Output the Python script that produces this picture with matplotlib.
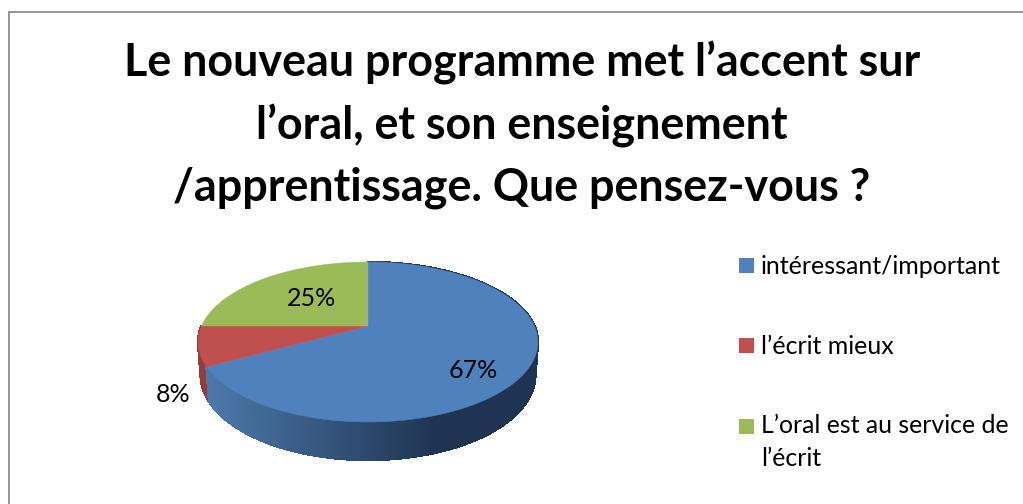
import numpy as np
import matplotlib
matplotlib.use("Agg")
import matplotlib.pyplot as plt
from matplotlib.patches import Rectangle
from matplotlib.collections import PolyCollection

title_lines = ["Le nouveau programme met l’accent sur",
               "l’oral, et son enseignement",
               "/apprentissage. Que pensez-vous ?"]
categories = ["intéressant/important", "l’écrit mieux", "L’oral est au service de\nl’écrit"]
values = [67, 8, 25]
pct_labels = ["67%", "8%", "25%"]
colors = ["#4f81bd", "#c0504d", "#9bbb59"]

plt.rcParams['font.family'] = ['Lato', 'DejaVu Sans']
fig = plt.figure(figsize=(10.23, 5.04), dpi=100)
ax = fig.add_axes([0, 0, 1, 1])
ax.set_xlim(0, 1023)
ax.set_ylim(504, 0)
ax.axis("off")

# frame
ax.plot([9, 9, 1023], [504, 12, 12], color="#8e8e8e", lw=1.3, solid_joinstyle="miter")

# perspective projection of the unit circle onto the page
CX, VY, RX = 368.0, 326.0, 166.5
def project(theta, drop=False):
    u, v = np.sin(theta), -np.cos(theta)
    w = 1 - 0.2 * v
    x = CX + RX * u / w
    y = (VY + 11.6 * v) / w
    if drop:
        x = CX + (x - CX) * 0.985
        y = y + 31 + 7 * v
    return x, y

edges = np.radians(np.concatenate([[0], np.cumsum(values)]) * 360 / sum(values))

def wall(t0, t1, col_fn):
    th = np.linspace(t0, t1, 400)
    xa, ya = project(th)
    xb, yb = project(th, drop=True)
    polys, cols = [], []
    for i in range(len(th) - 1):
        polys.append([(xa[i], ya[i]), (xa[i+1], ya[i+1]), (xb[i+1], yb[i+1]), (xb[i], yb[i])])
        cols.append(col_fn(0.5 * (xa[i] + xa[i+1])))
    ax.add_collection(PolyCollection(polys, facecolors=cols, edgecolors=cols,
                                     linewidths=1.0, antialiaseds=False))

def blue_wall(x):
    t = np.clip((x - 205) / (435 - 205), 0, 1)
    a, b = np.array([0x4c, 0x79, 0xab]) / 255, np.array([0x1f, 0x34, 0x52]) / 255
    return tuple(a + (b - a) * t)

# side walls: red first, blue over it
wall(edges[1], edges[2], lambda x: "#943d3b")
wall(edges[0], edges[1], blue_wall)

# top faces
for i, c in enumerate(colors):
    th = np.linspace(edges[i], edges[i + 1], 200)
    x, y = project(th)
    ax.fill(np.r_[CX, x], np.r_[VY, y], color=c, lw=0.3)

# data labels
label_pos = [(473, 370), (173, 394), (311, 299)]
for s, (x, y) in zip(pct_labels, label_pos):
    ax.text(x, y, s, ha="center", va="center", fontsize=18, color="black")

# title
for s, y in zip(title_lines, [63, 126, 188]):
    ax.text(522, y, s, ha="center", va="center", fontsize=32.3, fontweight="bold", color="black")

# legend
for c, y in zip(colors, [258, 338, 419]):
    ax.add_patch(Rectangle((739, y), 15, 15, facecolor=c, edgecolor="none"))
ax.text(761, 266, categories[0], va="center", ha="left", fontsize=18)
ax.text(761, 346, categories[1], va="center", ha="left", fontsize=18)
ax.text(761, 442, categories[2], va="center", ha="left", fontsize=17.9, linespacing=1.5)

fig.savefig("out.png", dpi=100, facecolor="white")
